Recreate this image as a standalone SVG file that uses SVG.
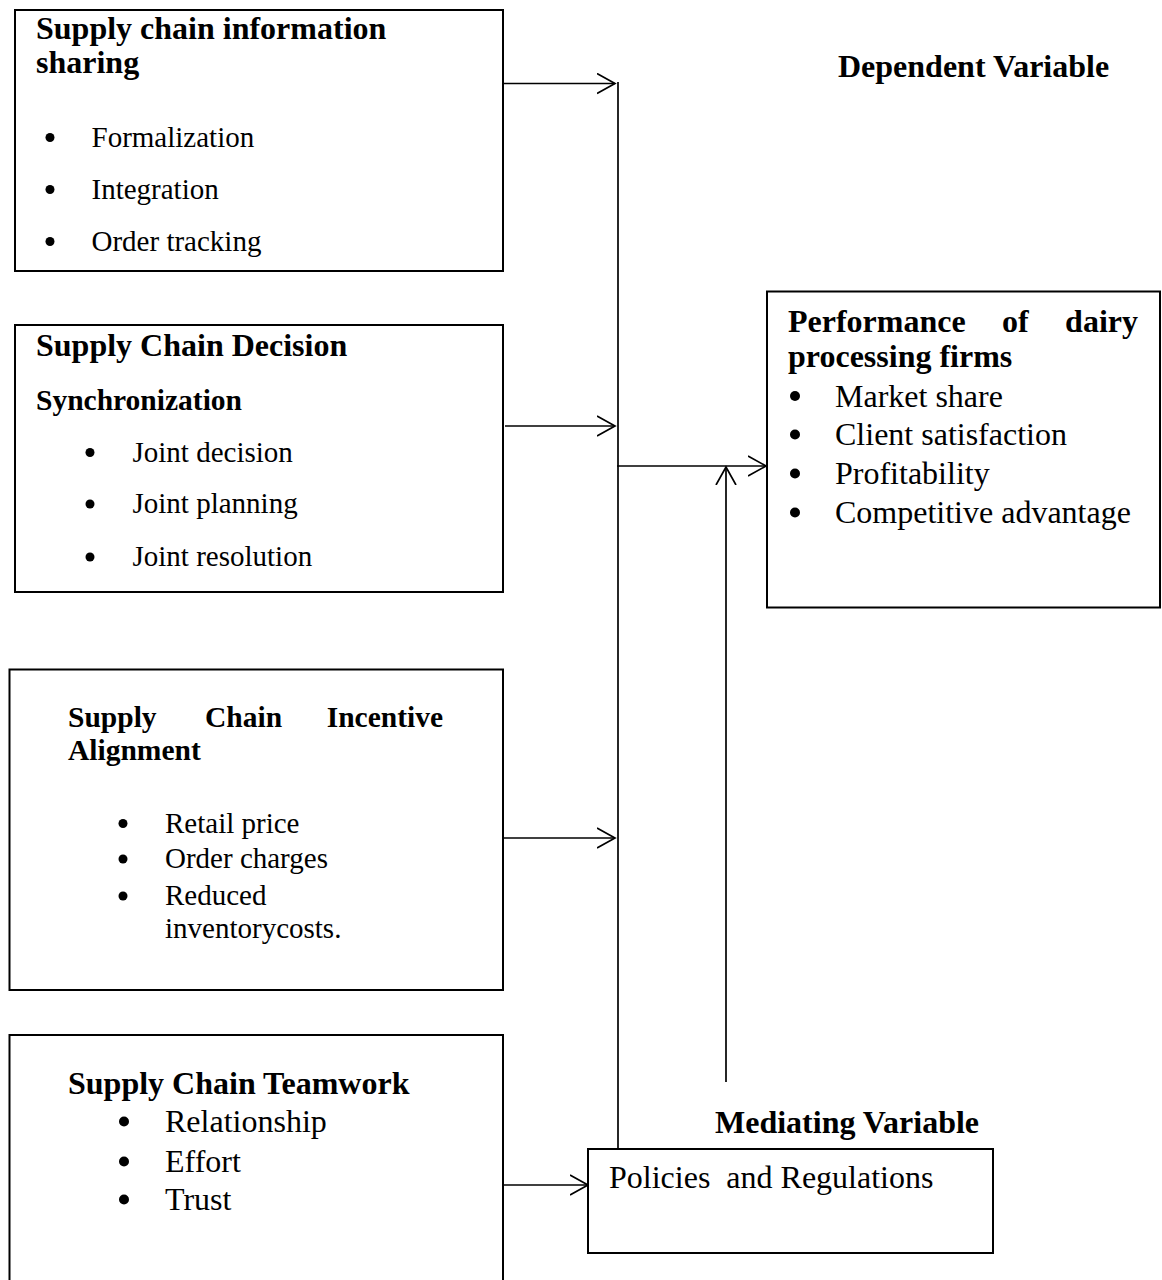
<svg xmlns="http://www.w3.org/2000/svg" width="1162" height="1280" viewBox="0 0 1162 1280">
<style>
text{font-family:"Liberation Serif","Times New Roman",serif;fill:#000}
.h{font-weight:bold;font-size:32px}
.h29{font-weight:bold;font-size:29.5px}
.t{font-size:32px}
.s{font-size:29px}
.box{fill:#fff;stroke:#000;stroke-width:2}
.dot{fill:#000}
.con{stroke:#000;stroke-width:1.7;fill:none}
</style>
<defs>
<marker id="arr" markerUnits="userSpaceOnUse" viewBox="0 0 20 22" refX="18" refY="11" markerWidth="20" markerHeight="22" orient="auto">
<path d="M0,1 L18,11 L0,21" fill="none" stroke="#000" stroke-width="1.7"/>
</marker>
</defs>
<rect width="1162" height="1280" fill="#fff"/>

<g id="connectors">
<line class="con" x1="503" y1="83.5" x2="615" y2="83.5" marker-end="url(#arr)"/>
<line class="con" x1="505" y1="426" x2="615" y2="426" marker-end="url(#arr)"/>
<line class="con" x1="503" y1="838" x2="615" y2="838" marker-end="url(#arr)"/>
<line class="con" x1="503" y1="1185" x2="588" y2="1185" marker-end="url(#arr)"/>
<line class="con" x1="618" y1="82" x2="618" y2="1149"/>
<line class="con" x1="617" y1="466" x2="766" y2="466" marker-end="url(#arr)"/>
<line class="con" x1="726" y1="1082" x2="726" y2="467" marker-end="url(#arr)"/>
</g>

<g id="info-sharing">
<rect class="box" x="15" y="10" width="488" height="261"/>
<text class="h" x="36" y="39">Supply chain information</text>
<text class="h" x="36" y="72.5">sharing</text>
<circle class="dot" cx="50" cy="137.5" r="4.5"/><text class="s" x="91.5" y="146.5">Formalization</text>
<circle class="dot" cx="50" cy="189.5" r="4.5"/><text class="s" x="91.5" y="199">Integration</text>
<circle class="dot" cx="50" cy="241.5" r="4.5"/><text class="s" x="91.5" y="250.5">Order tracking</text>
</g>

<g id="decision-sync">
<rect class="box" x="15" y="325" width="488" height="267"/>
<text class="h" x="36" y="356">Supply Chain Decision</text>
<text class="h29" x="36" y="410">Synchronization</text>
<circle class="dot" cx="90" cy="452.5" r="4.5"/><text class="s" x="132.5" y="461.5">Joint decision</text>
<circle class="dot" cx="90" cy="504" r="4.5"/><text class="s" x="132.5" y="513">Joint planning</text>
<circle class="dot" cx="90" cy="557" r="4.5"/><text class="s" x="132.5" y="566">Joint resolution</text>
</g>

<g id="incentive-alignment">
<rect class="box" x="9.5" y="669.5" width="493.5" height="320.5"/>
<text class="h29" x="68" y="726.5">Supply</text>
<text class="h29" x="205" y="726.5">Chain</text>
<text class="h29" x="443" y="726.5" text-anchor="end">Incentive</text>
<text class="h29" x="68" y="760">Alignment</text>
<circle class="dot" cx="123" cy="823.5" r="4.5"/><text class="s" x="165" y="832.5">Retail price</text>
<circle class="dot" cx="123" cy="859" r="4.5"/><text class="s" x="165" y="868">Order charges</text>
<circle class="dot" cx="123" cy="896" r="4.5"/><text class="s" x="165" y="905">Reduced</text>
<text class="s" x="165" y="937.5">inventorycosts.</text>
</g>

<g id="teamwork">
<rect class="box" x="9.5" y="1035" width="493.5" height="260"/>
<text class="h" x="68" y="1094">Supply Chain Teamwork</text>
<circle class="dot" cx="124" cy="1121.5" r="5"/><text class="t" x="165" y="1132">Relationship</text>
<circle class="dot" cx="124" cy="1161.5" r="5"/><text class="t" x="165" y="1172">Effort</text>
<circle class="dot" cx="124" cy="1199.5" r="5"/><text class="t" x="165" y="1210">Trust</text>
</g>

<g id="performance">
<rect class="box" x="767" y="291.5" width="393" height="316"/>
<text class="h" x="788" y="331.5">Performance</text>
<text class="h" x="1002" y="331.5">of</text>
<text class="h" x="1138" y="331.5" text-anchor="end">dairy</text>
<text class="h" x="788" y="366.5">processing firms</text>
<circle class="dot" cx="795" cy="396" r="5"/><text class="t" x="835" y="406.5">Market share</text>
<circle class="dot" cx="795" cy="434.5" r="5"/><text class="t" x="835" y="445">Client satisfaction</text>
<circle class="dot" cx="795" cy="473.5" r="5"/><text class="t" x="835" y="484">Profitability</text>
<circle class="dot" cx="795" cy="512.5" r="5"/><text class="t" x="835" y="523">Competitive advantage</text>
</g>

<g id="dependent-label">
<text class="h" x="838" y="76.5">Dependent Variable</text>
</g>

<g id="mediating-label">
<text class="h" x="715" y="1133">Mediating Variable</text>
</g>

<g id="policies">
<rect class="box" x="588" y="1149" width="405" height="104"/>
<text class="t" x="609" y="1188" xml:space="preserve">Policies  and Regulations</text>
</g>
</svg>
